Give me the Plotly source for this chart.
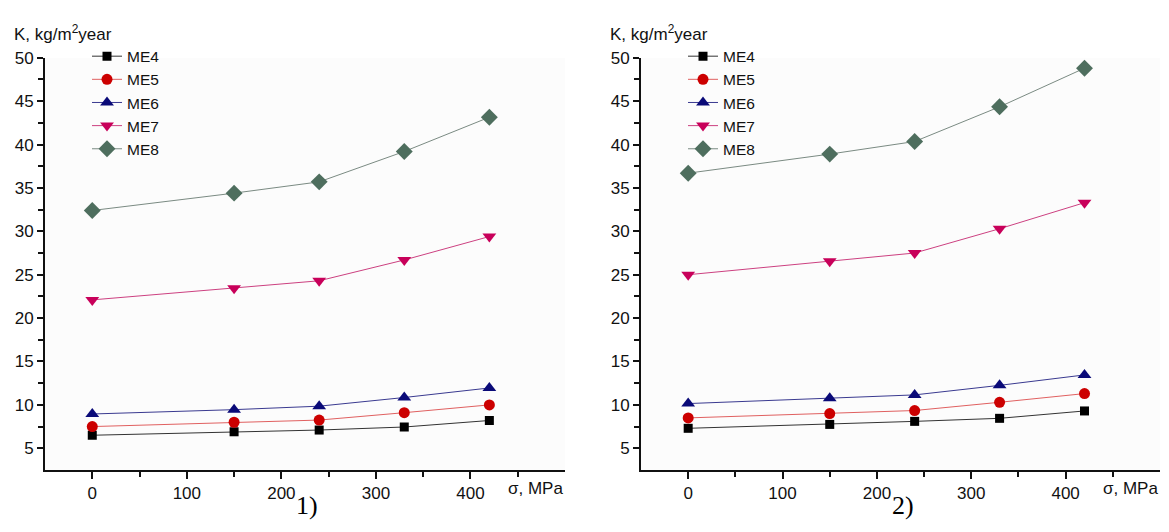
import plotly.graph_objects as go

# Page is 1169x532; the html body keeps an 8px margin, so the figure is 16px smaller
PAGE_W, PAGE_H = 1169, 532
OFF = 8
FW, FH = PAGE_W - 2 * OFF, PAGE_H - 2 * OFF


def px(xp):
    return (xp - OFF) / FW


def py(yp):
    return 1 - (yp - OFF) / FH


sigma = [0, 150, 240, 330, 420]
series_names = ["ME4", "ME5", "ME6", "ME7", "ME8"]

# Panel 1)
p1_ME4 = [6.5, 6.9, 7.1, 7.45, 8.2]
p1_ME5 = [7.5, 8.0, 8.25, 9.1, 10.0]
p1_ME6 = [8.95, 9.45, 9.85, 10.85, 11.95]
p1_ME7 = [22.1, 23.45, 24.3, 26.7, 29.4]
p1_ME8 = [32.4, 34.4, 35.7, 39.2, 43.15]

# Panel 2)
p2_ME4 = [7.3, 7.75, 8.1, 8.45, 9.3]
p2_ME5 = [8.5, 9.0, 9.35, 10.3, 11.3]
p2_ME6 = [10.15, 10.75, 11.15, 12.25, 13.45]
p2_ME7 = [25.0, 26.55, 27.5, 30.3, 33.3]
p2_ME8 = [36.7, 38.9, 40.35, 44.35, 48.8]

y_ticks = [5, 10, 15, 20, 25, 30, 35, 40, 45, 50]
y_minor = [7.5, 12.5, 17.5, 22.5, 27.5, 32.5, 37.5, 42.5, 47.5]
x_ticks = [0, 100, 200, 300, 400]
x_minor = [50, 150, 250, 350, 450]

styles = {
    "ME4": dict(symbol="square", size=9, mcolor="#000000", lcolor="#333333"),
    "ME5": dict(symbol="circle", size=11, mcolor="#cc0000", lcolor="#e06060"),
    "ME6": dict(symbol="triangle-up", size=12, mcolor="#0a0a78", lcolor="#3a3a90"),
    "ME7": dict(symbol="triangle-down", size=12, mcolor="#c8005a", lcolor="#cc4080"),
    "ME8": dict(symbol="diamond", size=13, mcolor="#4e6e5e", lcolor="#7a8a82"),
}

fig = go.Figure()
panels = [
    ("x", "y", "legend", [p1_ME4, p1_ME5, p1_ME6, p1_ME7, p1_ME8]),
    ("x2", "y2", "legend2", [p2_ME4, p2_ME5, p2_ME6, p2_ME7, p2_ME8]),
]
for xa, ya, lg, vals in panels:
    for name, v in zip(series_names, vals):
        s = styles[name]
        fig.add_trace(go.Scatter(
            x=sigma, y=v, name=name, mode="lines+markers",
            xaxis=xa, yaxis=ya, legend=lg,
            line=dict(color=s["lcolor"], width=1),
            marker=dict(symbol=s["symbol"], size=s["size"], color=s["mcolor"],
                        line=dict(width=0)),
        ))

FONT_FAMILY = "Liberation Sans, Arial, sans-serif"
tick_font = dict(family=FONT_FAMILY, size=17, color="#111111")


def xaxis_cfg(domain, anchor):
    return dict(
        domain=domain, anchor=anchor, range=[-50, 500],
        tickmode="array", tickvals=x_ticks, ticktext=[str(t) for t in x_ticks],
        ticks="outside", ticklen=7, tickwidth=1.5, tickcolor="#111111",
        showline=True, linewidth=2, linecolor="#111111", showgrid=False,
        zeroline=False, tickfont=tick_font,
        minor=dict(tickmode="array", tickvals=x_minor, ticks="outside", ticklen=5,
                   tickwidth=1.5, tickcolor="#111111", showgrid=False),
    )


def yaxis_cfg(domain, anchor):
    return dict(
        domain=domain, anchor=anchor, range=[2.5, 50],
        tickmode="array", tickvals=y_ticks,
        ticks="outside", ticklen=6, tickwidth=1.5, tickcolor="#111111",
        showline=True, linewidth=2, linecolor="#111111", showgrid=False,
        zeroline=False, tickfont=tick_font,
        minor=dict(tickmode="array", tickvals=y_minor, ticks="outside", ticklen=5,
                   tickwidth=1.5, tickcolor="#111111", showgrid=False),
    )


yd = [py(469), py(49.5)]
xd1 = [px(45), px(565)]
xd2 = [px(641), px(1160)]

legend_common = dict(
    font=dict(family=FONT_FAMILY, size=15.5, color="#111111"),
    bgcolor="rgba(0,0,0,0)", borderwidth=0, yanchor="top", xanchor="left",
    tracegroupgap=0, itemsizing="trace",
)

annotations = []
for i, (xref, page_axis_x) in enumerate((("x", 45), ("x2", 641))):
    annotations.append(dict(
        text="K, kg/m<sup>2</sup>year", xref="paper", yref="paper",
        x=px(page_axis_x - 33), y=py(24), xanchor="left", yanchor="middle",
        showarrow=False, font=dict(family=FONT_FAMILY, size=17, color="#111111"),
    ))
    annotations.append(dict(
        text="\u03c3, MPa", xref=xref, yref="paper",
        x=500, y=py(488), xanchor="right", yanchor="middle",
        showarrow=False, font=dict(family=FONT_FAMILY, size=17, color="#111111"),
    ))
    annotations.append(dict(
        text=f"{i + 1})", xref="paper", yref="paper",
        x=px(page_axis_x + 262), y=py(522), xanchor="center", yanchor="bottom",
        showarrow=False,
        font=dict(family="Liberation Serif, Times New Roman, serif", size=26, color="#000000"),
    ))

fig.update_layout(
    width=FW, height=FH,
    margin=dict(l=0, r=0, t=0, b=0),
    paper_bgcolor="#ffffff", plot_bgcolor="#fcfcfc",
    xaxis=xaxis_cfg(xd1, "y"), yaxis=yaxis_cfg(yd, "x"),
    xaxis2=xaxis_cfg(xd2, "y2"), yaxis2=yaxis_cfg(yd, "x2"),
    legend=dict(x=px(87), y=py(31), **legend_common),
    legend2=dict(x=px(683), y=py(31), **legend_common),
    annotations=annotations,
    showlegend=True,
)

fig.write_html("out.html")
